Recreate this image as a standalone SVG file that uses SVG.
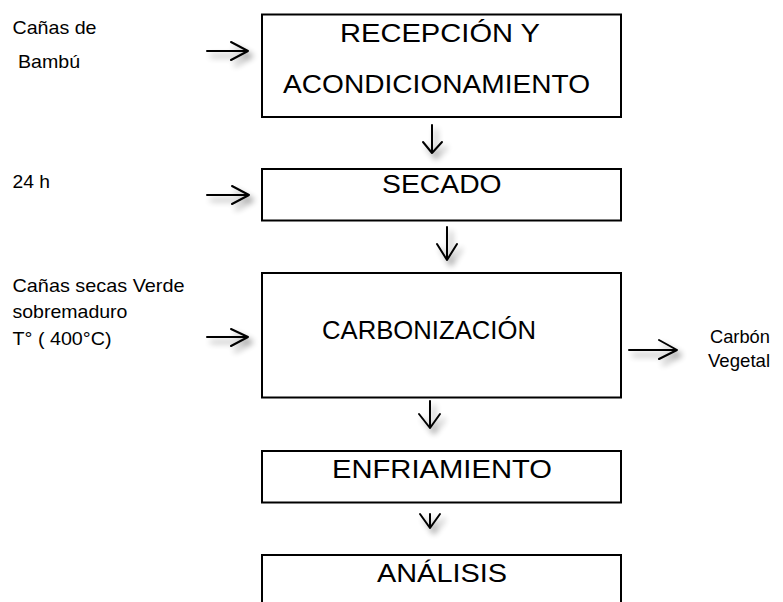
<svg xmlns="http://www.w3.org/2000/svg" width="783" height="602" viewBox="0 0 783 602">
<style>
.box{fill:#fff;stroke:#000;stroke-width:2}
.big{font-family:"Liberation Sans",Arial,sans-serif;font-size:26px;fill:#000}
.small{font-family:"Liberation Sans",Arial,sans-serif;font-size:17.5px;fill:#000}
.arr{fill:none;stroke:#000;stroke-width:2;stroke-linecap:round;stroke-linejoin:round}
</style>
<defs>
<filter id="sh" x="-50%" y="-50%" width="200%" height="200%">
<feGaussianBlur in="SourceAlpha" stdDeviation="3" result="b"/>
<feOffset in="b" dx="4" dy="5" result="o"/>
<feComponentTransfer in="o" result="s"><feFuncA type="linear" slope="0.45"/></feComponentTransfer>
<feMerge><feMergeNode in="s"/><feMergeNode in="SourceGraphic"/></feMerge>
</filter>
</defs>
<g id="inputs">
<text class="small" transform="translate(12.5,34) scale(1.1,1)" textLength="76.4" lengthAdjust="spacingAndGlyphs">Cañas de</text>
<text class="small" transform="translate(18,68) scale(1.1,1)" textLength="56.4" lengthAdjust="spacingAndGlyphs">Bambú</text>
<text class="small" transform="translate(12.5,188) scale(1.1,1)">24 h</text>
<text class="small" transform="translate(12.5,292) scale(1.1,1)" textLength="156.4" lengthAdjust="spacingAndGlyphs">Cañas secas Verde</text>
<text class="small" transform="translate(12.5,318) scale(1.1,1)" textLength="104.5" lengthAdjust="spacingAndGlyphs">sobremaduro</text>
<text class="small" transform="translate(12.5,345) scale(1.1,1)" textLength="90" lengthAdjust="spacingAndGlyphs">T° ( 400°C)</text>
<text class="small" transform="translate(710,343) scale(1.1,1)" textLength="54.5" lengthAdjust="spacingAndGlyphs">Carbón</text>
<text class="small" transform="translate(708,367) scale(1.1,1)" textLength="56.4" lengthAdjust="spacingAndGlyphs">Vegetal</text>
</g>
<g id="n1">
<rect class="box" x="262" y="14.5" width="359" height="102.5"/>
<text class="big" transform="translate(340,42) scale(1.09,1)" textLength="183.5" lengthAdjust="spacingAndGlyphs">RECEPCIÓN Y</text>
<text class="big" transform="translate(283,93) scale(1.09,1)" textLength="281.7" lengthAdjust="spacingAndGlyphs">ACONDICIONAMIENTO</text>
</g>
<g id="n2">
<rect class="box" x="262" y="169" width="359" height="51.5"/>
<text class="big" transform="translate(382,193) scale(1.09,1)">SECADO</text>
</g>
<g id="n3">
<rect class="box" x="262" y="273" width="359" height="124.5"/>
<text class="big" transform="translate(322,339) scale(1.09,1)" textLength="196.3" lengthAdjust="spacingAndGlyphs">CARBONIZACIÓN</text>
</g>
<g id="n4">
<rect class="box" x="262" y="451" width="359" height="51.5"/>
<text class="big" transform="translate(332,478) scale(1.09,1)" textLength="201.8" lengthAdjust="spacingAndGlyphs">ENFRIAMIENTO</text>
</g>
<g id="n5">
<rect class="box" x="262" y="555" width="359" height="60"/>
<text class="big" transform="translate(377,582) scale(1.09,1)" textLength="119.3" lengthAdjust="spacingAndGlyphs">ANÁLISIS</text>
</g>
<g id="connectors" filter="url(#sh)">
<path class="arr" d="M207 51 H248 M231 42 L248 51 L231 60"/>
<path class="arr" d="M207 195 H249 M232 186 L249 195 L232 204"/>
<path class="arr" d="M207 337 H248 M231 329 L248 337 L231 346"/>
<path class="arr" d="M629 350 H677 M659 340 L677 350 L659 359"/>
<path class="arr" d="M432 125 V153 M423 142 L432 153 L442 142"/>
<path class="arr" d="M447 227 V260 M437 244 L447 260 L457 244"/>
<path class="arr" d="M430 401 V428 M419 414 L430 428 L440 414"/>
<path class="arr" d="M430 514 V528 M420 514 L430 528 L440 514"/>
</g>
</svg>
